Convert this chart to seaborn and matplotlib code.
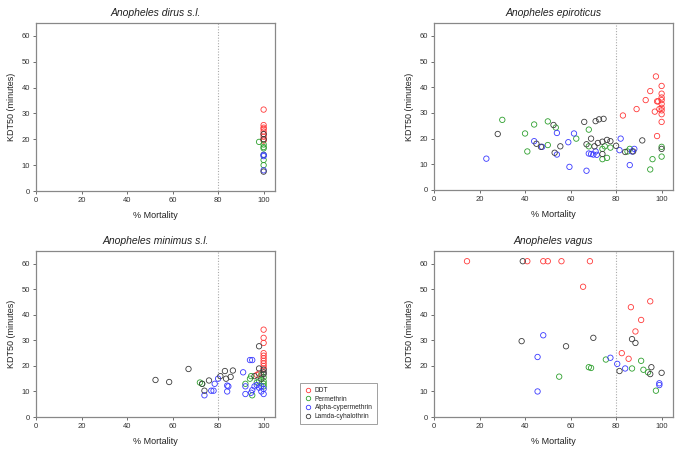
import matplotlib
matplotlib.use("Agg")
import matplotlib.pyplot as plt
import seaborn as sns
import pandas as pd
from matplotlib.lines import Line2D

insecticides = ["DDT", "Permethrin", "Alpha-cypermethrin", "Lamda-cyhalothrin"]
colors = ["#ff3a3a", "#2ea02e", "#3a3aff", "#3c3c3c"]
species = ["Anopheles dirus s.l.", "Anopheles epiroticus", "Anopheles minimus s.l.", "Anopheles vagus"]

# ---- Anopheles dirus s.l. ----
dirus_ddt_x = [100, 100, 100, 100, 100, 100, 100, 100, 100]
dirus_ddt_y = [31.5, 25.5, 24.5, 24, 23, 22, 21, 20, 19.5]
dirus_per_x = [98, 100, 100, 100, 100, 100, 100]
dirus_per_y = [19, 18, 17, 16.5, 14, 12, 10]
dirus_alp_x = [100, 100, 100]
dirus_alp_y = [14, 13.5, 8]
dirus_lam_x = [100, 100, 100]
dirus_lam_y = [22, 20, 7.5]

# ---- Anopheles epiroticus ----
epi_ddt_x = [97.5, 95, 93, 89, 83, 97, 98, 98.5, 98, 100, 100, 100, 100, 100, 100, 100, 100, 100, 99]
epi_ddt_y = [44.2, 38.5, 35, 31.5, 29, 30.5, 34.5, 34.5, 21, 40.5, 37.5, 36, 35, 33.5, 32, 31, 29.5, 26.5, 31.5]
epi_per_x = [30, 40, 41, 44, 50, 53.5, 50, 62.5, 68, 68, 74, 75, 74, 76, 77.5, 86, 85, 96, 95, 100, 100]
epi_per_y = [27.3, 22, 15, 25.5, 26.7, 24.3, 17.5, 20, 23.5, 17, 16, 17, 12, 12.5, 16.5, 16, 15, 12, 8, 16.8, 13]
epi_alp_x = [23, 44, 47.5, 54, 54, 59, 59.5, 61.5, 67, 68, 69, 70, 71.5, 71, 82, 81.5, 86, 87, 88]
epi_alp_y = [12.2, 19, 16.8, 22.2, 13.8, 18.6, 9, 22, 7.5, 14.2, 14, 13.8, 13.7, 15, 20, 15.5, 9.7, 15, 16]
epi_lam_x = [28, 45, 47, 52.5, 53, 55.5, 66, 67, 69, 70.5, 71, 72.5, 74.5, 72, 74, 74, 76, 77.5, 80, 84, 87.5, 91.5, 100]
epi_lam_y = [21.8, 18, 16.8, 25.3, 14.5, 17, 26.5, 17.8, 20, 17, 26.8, 27.5, 27.7, 18.3, 14, 18.8, 19.5, 19, 17.2, 14.8, 15, 19.3, 16]

# ---- Anopheles minimus s.l. ----
min_ddt_x = [100, 100, 100, 100, 100, 100, 100, 100, 100, 100, 98, 97]
min_ddt_y = [34.2, 31, 29, 25, 24, 23, 22, 21, 20, 19, 17, 16.5]
min_per_x = [72, 73, 94, 94.5, 92, 95, 97, 98, 100, 100, 100, 100, 99]
min_per_y = [13.5, 13, 15, 16, 13, 8.5, 13.5, 14, 14, 13, 12, 15.5, 16.5]
min_alp_x = [74, 77, 78, 78.5, 80, 84, 84, 84.5, 91, 92, 92, 94, 95, 94.5, 95, 96, 97, 98, 99, 100, 100, 99]
min_alp_y = [8.5, 10.3, 10.3, 13, 15, 12.3, 10, 12, 17.5, 12, 9, 22.3, 22.3, 9.5, 10.5, 12, 12.5, 11.5, 10, 9, 11, 12]
min_lam_x = [52.5, 58.5, 67, 73, 74, 76, 81, 83, 83.5, 85.5, 86.5, 96, 98, 98, 100, 100, 100, 99]
min_lam_y = [14.5, 13.7, 18.8, 13, 10.3, 14.3, 16, 18, 15, 15.7, 18.2, 16, 27.7, 19, 18.5, 17.5, 16.8, 15]

# ---- Anopheles vagus ----
vag_ddt_x = [14.5, 41, 48, 50, 56, 68.5, 65.5, 86.5, 95, 91, 88.5, 82.5, 85.5]
vag_ddt_y = [61, 61, 61, 61, 61, 61, 51, 43, 45.3, 38, 33.5, 25, 22.8]
vag_per_x = [55, 68, 69, 75.5, 87, 91, 92, 94, 97.5]
vag_per_y = [15.8, 19.5, 19.2, 22.5, 19, 22, 18.5, 17.5, 10.3]
vag_alp_x = [48, 45.5, 45.5, 77.5, 80.5, 84, 99, 99]
vag_alp_y = [32, 23.5, 10, 23.2, 20.8, 19, 13.2, 12.5]
vag_lam_x = [39, 38.5, 58, 70, 87, 88.5, 81.5, 95.5, 95, 100]
vag_lam_y = [61, 29.7, 27.7, 31, 30.5, 29, 18, 19.5, 16.8, 17.3]

series = {
    species[0]: [(dirus_ddt_x, dirus_ddt_y), (dirus_per_x, dirus_per_y), (dirus_alp_x, dirus_alp_y), (dirus_lam_x, dirus_lam_y)],
    species[1]: [(epi_ddt_x, epi_ddt_y), (epi_per_x, epi_per_y), (epi_alp_x, epi_alp_y), (epi_lam_x, epi_lam_y)],
    species[2]: [(min_ddt_x, min_ddt_y), (min_per_x, min_per_y), (min_alp_x, min_alp_y), (min_lam_x, min_lam_y)],
    species[3]: [(vag_ddt_x, vag_ddt_y), (vag_per_x, vag_per_y), (vag_alp_x, vag_alp_y), (vag_lam_x, vag_lam_y)],
}

rows = []
for sp, lst in series.items():
    for ins, (xs, ys) in zip(insecticides, lst):
        for x, y in zip(xs, ys):
            rows.append({"species": sp, "insecticide": ins, "mortality": x, "kdt50": y})
df = pd.DataFrame(rows)

sns.set_theme(style="white")
plt.rcParams["font.family"] = ["Liberation Sans", "DejaVu Sans"]

fig = plt.figure(figsize=(6.85, 4.54), dpi=100)
W, H = 685, 454
boxes = [(36, 23, 275, 191), (434, 23, 673, 190), (36, 251, 275, 417), (434, 251, 673, 417)]
palette = dict(zip(insecticides, colors))

for sp, (l, t, r, b) in zip(species, boxes):
    ax = fig.add_axes([l / W, 1 - b / H, (r - l) / W, (b - t) / H])
    sub = df[df["species"] == sp]
    sns.scatterplot(data=sub, x="mortality", y="kdt50", hue="insecticide",
                    hue_order=insecticides, palette=palette, s=15,
                    linewidth=0.6, legend=False, ax=ax)
    for coll in ax.collections:
        fc = coll.get_facecolors()
        coll.set_edgecolors(fc)
        coll.set_facecolors("none")
    ax.axvline(80, color="#aaaaaa", linestyle=(0, (1, 1.5)), linewidth=0.8, zorder=0)
    ax.set_xlim(0, 105)
    ax.set_ylim(0, 65)
    ax.set_xticks([0, 20, 40, 60, 80, 100])
    ax.set_yticks([0, 10, 20, 30, 40, 50, 60])
    ax.tick_params(axis="both", labelsize=5.5, length=2.5, width=0.6, color="#555555",
                   labelcolor="#333333", pad=2, direction="out", bottom=True, left=True)
    for s in ax.spines.values():
        s.set_color("#888888")
        s.set_linewidth(0.9)
    ax.set_xlabel("% Mortality", fontsize=6.5, color="#222222", labelpad=5)
    ax.set_ylabel("KDT50 (minutes)", fontsize=6.5, color="#222222", labelpad=4)
    ax.set_title(sp, fontsize=7.5, style="italic", color="#222222", pad=5)

handles = [Line2D([], [], marker="o", linestyle="none", markerfacecolor="none",
                  markeredgecolor=c, markersize=3.2, markeredgewidth=0.6) for c in colors]
leg = fig.legend(handles, insecticides, loc="upper left",
                 bbox_to_anchor=(300 / W, 1 - 383 / H), fontsize=4.8,
                 frameon=True, fancybox=False, borderpad=0.6, handletextpad=0.4,
                 labelspacing=0.25, handlelength=1.2, borderaxespad=0)
leg.get_frame().set_edgecolor("#888888")
leg.get_frame().set_linewidth(0.7)

fig.savefig("out.png", dpi=100)
